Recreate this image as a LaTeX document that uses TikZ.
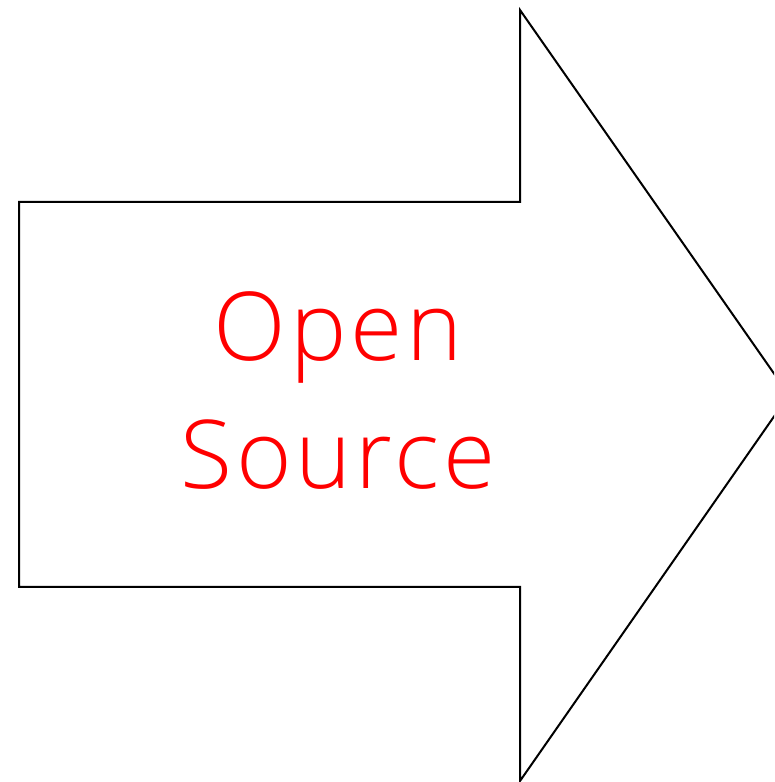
\documentclass[tikz,border=0pt]{standalone}
\usepackage{fontspec}
\newfontfamily\labelfont[LetterSpace=4]{Open Sans Light}
\usetikzlibrary{positioning}

\begin{document}
\begin{tikzpicture}[x=1pt,y=1pt,
  outline/.style={line width=2pt, line join=miter},
  label/.style={text=red, align=center, font=\labelfont\fontsize{95}{128}\selectfont}]
\useasboundingbox (0,0) rectangle (774,782);
\clip (0,0) rectangle (774,782);
% arrow outline: shaft then head
\draw[outline] (19,580) -- (520,580) -- (520,772) -- (789,387)
  -- (520,1) -- (520,195) -- (19,195) -- cycle;
\node[label] (title) at (338,391) {Open\\Source};
\end{tikzpicture}
\end{document}
